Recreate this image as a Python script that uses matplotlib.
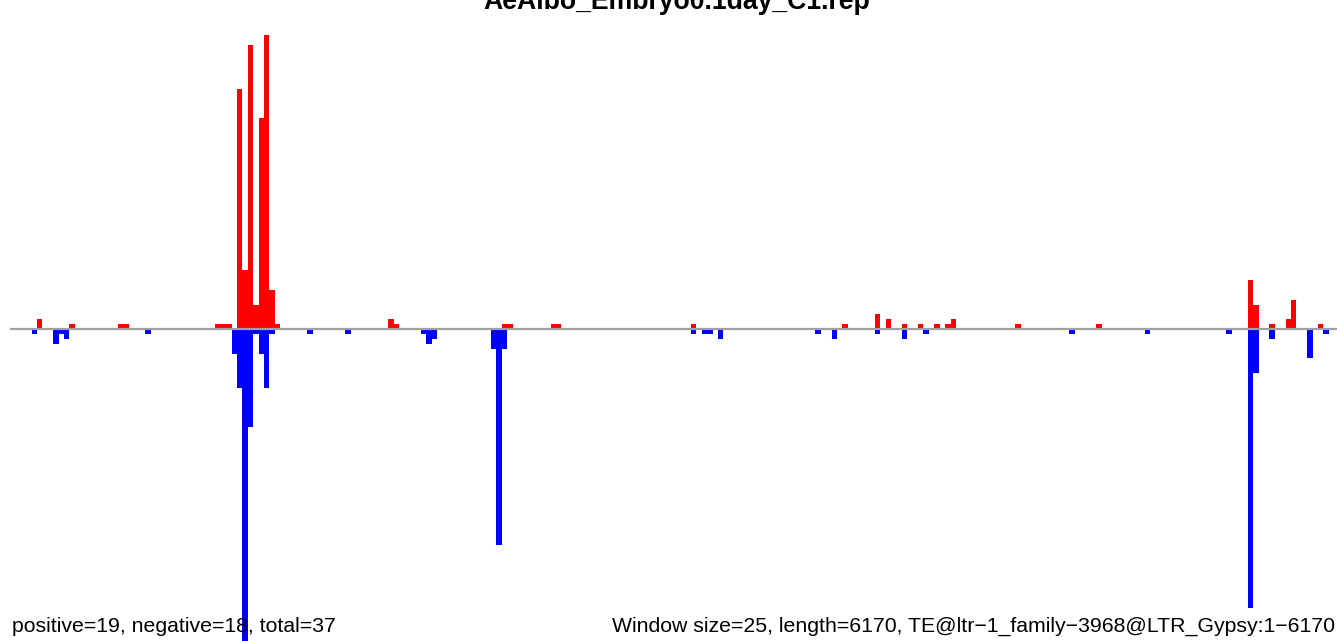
import numpy as np
import matplotlib
matplotlib.use('Agg')
import matplotlib.pyplot as plt

plt.rcParams['font.family'] = ['Liberation Sans', 'DejaVu Sans']

title = 'AeAlbo_Embryo0.1day_C1.rep'
window = 25
length = 6170

# window index -> count (forward strand, red)
pos_bins = [5, 11, 20, 21, 38, 39, 40, 42, 43, 44, 45, 46, 47, 48, 49,
            70, 71, 91, 92, 100, 101, 126, 154, 160, 162, 165, 168, 171,
            173, 174, 186, 201, 229, 230, 233, 236, 237, 242]
pos_vals = [2, 1, 1, 1, 1, 1, 1, 49, 12, 58, 5, 43, 60, 8, 1,
            2, 1, 1, 1, 1, 1, 1, 1, 3, 2, 1, 1, 1,
            1, 2, 1, 1, 10, 5, 1, 2, 6, 1]

# window index -> count (reverse strand, blue)
neg_bins = [4, 8, 9, 10, 25, 41, 42, 43, 44, 45, 46, 47, 48, 55, 62,
            76, 77, 78, 89, 90, 91, 126, 128, 129, 131, 149, 152, 160,
            165, 169, 196, 210, 225, 229, 230, 233, 240, 243]
neg_vals = [1, 3, 1, 2, 1, 5, 12, 66, 20, 1, 5, 12, 1, 1, 1,
            1, 3, 2, 4, 44, 4, 1, 1, 1, 2, 1, 2, 1,
            2, 1, 1, 1, 1, 57, 9, 2, 6, 1]

fig = plt.figure(figsize=(13.37, 6.41), dpi=100)
ax = fig.add_axes([10 / 1337, 0, 1334 / 1337, 1])

px = 4.9  # pixels per count
ax.bar(np.array(pos_bins) * window, pos_vals, width=window, align='edge',
       color='red', linewidth=0)
ax.bar(np.array(neg_bins) * window, -np.array(neg_vals), width=window,
       align='edge', color='blue', linewidth=0)
ax.axhline(0, color='#a0a0a0', lw=1.6, zorder=3)

ax.set_xlim(0, length)
ax.set_ylim(-(641 - 329) / px, 329 / px)
ax.axis('off')

fig.text(677 / 1337, 1 - 9 / 641, title, ha='center', va='baseline',
         fontsize=19.2, fontweight='bold')
fig.text(12 / 1337, 1 - 632 / 641,
         'positive=19, negative=18, total=37',
         ha='left', va='baseline', fontsize=15.3)
fig.text(612 / 1337, 1 - 632 / 641,
         'Window size=25, length=6170, TE@ltr\u22121_family\u22123968@LTR_Gypsy:1\u22126170',
         ha='left', va='baseline', fontsize=15.3)

fig.savefig('out.png', dpi=100)
